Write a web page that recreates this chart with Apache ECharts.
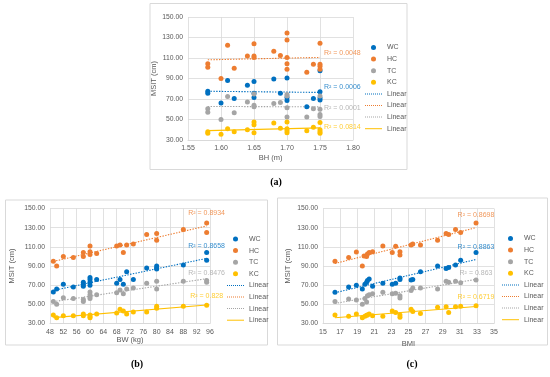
<!DOCTYPE html>
<html><head><meta charset="utf-8">
<script src="https://cdn.jsdelivr.net/npm/echarts@6/dist/echarts.min.js"></script>
<style>html,body{margin:0;padding:0;background:#fff}#c{width:550px;height:377px}</style>
</head><body><div id="c"></div>
<script>
// ---------- DATA ----------
const seriesNames = ['WC', 'HC', 'TC', 'KC'];
const lineNames = ['Linear1', 'Linear2', 'Linear3', 'Linear4'];

// (a) MSIT vs BH (m)
const bhWC = [[1.58,77.5],[1.58,75.5],[1.60,66],[1.61,88],[1.62,70.5],[1.64,83.5],[1.65,87],[1.65,75.5],[1.65,71.5],[1.68,89.5],[1.69,75.5],[1.70,90.5],[1.70,71.5],[1.70,68.5],[1.73,62.5],[1.74,70.5],[1.75,97.5],[1.75,77],[1.75,71],[1.75,69]];
const bhHC = [[1.58,104.5],[1.58,101],[1.60,90],[1.61,122.5],[1.62,100],[1.64,112],[1.65,124],[1.65,112],[1.65,110.5],[1.68,116.5],[1.69,112.5],[1.70,134.5],[1.70,127.5],[1.70,110.5],[1.70,104.5],[1.70,99],[1.73,96],[1.74,104],[1.75,124.5],[1.75,104],[1.75,102],[1.75,99]];
const bhTC = [[1.58,60.5],[1.58,57],[1.60,50],[1.61,72.5],[1.62,56.5],[1.64,67],[1.65,75],[1.65,64],[1.65,62.5],[1.68,65.5],[1.69,66.5],[1.70,74.5],[1.70,73],[1.70,61.5],[1.70,52.5],[1.73,52.5],[1.74,60.5],[1.75,73],[1.75,60],[1.75,55],[1.75,53]];
const bhKC = [[1.58,38],[1.58,36.5],[1.60,35.5],[1.61,41],[1.62,38],[1.64,40],[1.65,47.5],[1.65,45],[1.65,37],[1.68,46.5],[1.69,41.5],[1.70,47.5],[1.70,41],[1.70,39],[1.70,37],[1.73,39],[1.74,42.5],[1.75,47],[1.75,40],[1.75,38],[1.75,36.5]];
const r2BH = ['R² = 0.0006', 'R² = 0.0048', 'R² = 0.0001', 'R² = 0.0814'];

// (b) MSIT vs BW (kg)
const bwWC = [[49,63],[50,66],[52,71],[55,68],[58,73],[58,71],[58,69],[60,78],[60,76],[60,73],[60,70],[62,76],[68,72],[69,76],[70,71],[71,84],[73,76],[77,88],[80,90],[80,88],[80,87],[88,91],[95,104],[95,96]];
const bwHC = [[49,95],[50,90],[52,100],[55,99],[58,104],[58,100],[60,111],[60,105],[60,102],[62,103],[68,111],[69,112],[70,104],[71,112],[73,113],[77,123],[80,124],[80,117],[88,128],[95,135],[95,125]];
const bwTC = [[49,53],[50,50],[52,57],[55,56],[58,55],[58,53],[60,63],[60,60],[60,58],[60,56],[62,60],[68,62],[69,65],[70,61],[71,66],[73,67],[77,72],[80,74],[80,66],[88,74],[95,75],[95,73]];
const bwKC = [[49,39],[50,36],[52,38],[55,38],[58,40],[58,38],[60,39],[60,37],[60,36],[62,40],[68,41],[69,45],[70,43],[71,40],[73,42],[77,42],[80,48],[80,46],[88,48],[95,49]];
const r2BW = ['R² = 0.8658', 'R² = 0.8934', 'R² = 0.8476', 'R² = 0.828'];

// (c) MSIT vs BMI
const bmiWC = [[16.4,62.5],[18,68],[18.9,70],[19.6,66],[19.9,71],[20.1,73],[20.2,75],[20.4,76.5],[20.8,69],[22,72],[23.1,71],[23.5,72],[24,77.5],[24,76],[25.3,75.5],[25.5,76],[26.4,84],[28.4,90],[29.4,87.5],[29.7,88.5],[30.5,91],[31.1,96],[32.9,104]];
const bmiHC = [[16.4,95],[18,99],[18.9,104.5],[19.6,90],[19.8,100.5],[20.1,100],[20.2,102.5],[20.4,104],[20.8,105],[22,111],[23.1,104],[23.5,110.5],[24,105],[24,101.5],[25.3,112],[25.5,113],[26.4,112],[28.4,117],[29.4,124],[29.7,123],[30.5,128],[31.1,125],[32.9,135]];
const bmiTC = [[16.4,53],[18,55.5],[18.9,54.5],[19.6,50],[19.9,56],[20.1,52.5],[20.2,59],[20.4,60],[20.8,61],[22,62.5],[23.1,61],[23.5,61.5],[24,59],[24,56.5],[25.3,64.5],[25.5,67],[26.4,67],[28.4,66],[29.4,74],[29.7,73],[30.5,74],[31.1,72.5],[32.9,75.5]];
const bmiKC = [[16.4,39],[18,37.5],[18.9,40],[19.6,36],[19.9,37.5],[20.1,38.5],[20.2,39],[20.4,40],[20.8,38],[22,37.5],[23.1,43],[23.5,41.5],[24,39],[24,36.5],[25.3,45],[25.5,42.5],[26.4,40.5],[28.4,47],[29.4,47.5],[29.7,41.5],[30.5,47.5],[31.1,48],[32.9,48.5]];
const r2BMI = ['R² = 0.8863', 'R² = 0.8698', 'R² = 0.863', 'R² = 0.6719'];

// axis labels
const yName = 'MSIT (cm)';
const xNames = ['BH (m)', 'BW (kg)', 'BMI'];
const panelLabels = ['(a)', '(b)', '(c)'];

// ---------- STYLE ----------
const colors = ['#0070C0', '#ED7D31', '#A5A5A5', '#FFC000'];
const FONT = 'Liberation Sans';
const TXT = '#595959';
const GRID = '#d9d9d9';

function fit(pts) {
  const n = pts.length;
  let sx = 0, sy = 0, sxx = 0, sxy = 0, xmin = Infinity, xmax = -Infinity;
  pts.forEach(([x, y]) => { sx += x; sy += y; sxx += x * x; sxy += x * y; xmin = Math.min(xmin, x); xmax = Math.max(xmax, x); });
  const b = (n * sxy - sx * sy) / (n * sxx - sx * sx);
  const a = (sy - b * sx) / n;
  return [[xmin, a + b * xmin], [xmax, a + b * xmax]];
}

const panels = [
  { data: [bhWC, bhHC, bhTC, bhKC], r2: r2BH, grid: { left: 188, top: 17, width: 165, height: 123 },
    x: { min: 1.55, max: 1.80, interval: 0.05, dec: 2, nameGap: 14 },
    labelPos: [[4, -5], [4, -4], [4, 1], [4, -1]], labelAlign: 'left', yNameGap: 30,
    legend: { left: 360, top: 38 } },
  { data: [bwWC, bwHC, bwTC, bwKC], r2: r2BW, grid: { left: 50, top: 208.5, width: 160, height: 115 },
    x: { min: 48, max: 96, interval: 4, dec: 0, nameGap: 11 },
    labelPos: [[0, -12], [0, -12.5], [0, -6], [0, -9]], labelAlign: 'center', yNameGap: 34,
    legend: { left: 222, top: 229.5 } },
  { data: [bmiWC, bmiHC, bmiTC, bmiKC], r2: r2BMI, grid: { left: 323, top: 208.5, width: 171, height: 115 },
    x: { min: 15, max: 35, interval: 2, dec: 0, nameGap: 16 },
    labelPos: [[0, -12.5], [0, -12.5], [0, -6], [0, -9]], labelAlign: 'center', yNameGap: 31,
    legend: { left: 497, top: 229 } }
];

const grids = [], xAxes = [], yAxes = [], series = [], legends = [], graphics = [];

function dottedPath() {
  let p = 'path://';
  for (let i = 0; i < 9; i++) p += 'M' + (i * 2) + ',0h1v1h-1z';
  return p;
}
const dotted = dottedPath();
const solid = 'path://M0,0h17v1h-17z';

panels.forEach((pn, gi) => {
  grids.push(Object.assign({ containLabel: false }, pn.grid));
  xAxes.push({
    type: 'value', gridIndex: gi, min: pn.x.min, max: pn.x.max, interval: pn.x.interval,
    name: xNames[gi], nameLocation: 'middle', nameGap: pn.x.nameGap,
    nameTextStyle: { color: TXT, fontSize: 7.5, fontFamily: FONT },
    axisLine: { show: true, lineStyle: { color: GRID, width: 1 } },
    axisTick: { show: false },
    axisLabel: { color: TXT, fontSize: 7, fontFamily: FONT, margin: 5,
      formatter: v => Number(v).toFixed(pn.x.dec) },
    splitLine: { show: true, lineStyle: { color: GRID, width: 0.8 } }
  });
  yAxes.push({
    type: 'value', gridIndex: gi, min: 30, max: 150, interval: 20,
    name: yName, nameLocation: 'middle', nameGap: pn.yNameGap, nameRotate: 90,
    nameTextStyle: { color: TXT, fontSize: 7.5, fontFamily: FONT },
    axisLine: { show: false }, axisTick: { show: false },
    axisLabel: { color: TXT, fontSize: 6.8, fontFamily: FONT, margin: 5,
      formatter: v => Number(v).toFixed(2) },
    splitLine: { show: true, lineStyle: { color: GRID, width: 0.8 } }
  });
  pn.data.forEach((pts, si) => {
    series.push({
      type: 'scatter', name: seriesNames[si], xAxisIndex: gi, yAxisIndex: gi,
      data: pts, symbolSize: 5, itemStyle: { color: colors[si], opacity: 1 }, z: 3
    });
  });
  pn.data.forEach((pts, si) => {
    series.push({
      type: 'line', name: lineNames[si], xAxisIndex: gi, yAxisIndex: gi,
      data: fit(pts), symbol: 'none', showSymbol: false, silent: true, z: 2,
      itemStyle: { color: colors[si] },
      lineStyle: { color: colors[si], width: 1.1, type: si === 3 ? 'solid' : [1.4, 1.4] }
    });
  });
  pn.data.forEach((pts, si) => {
    const end = fit(pts)[1];
    series.push({
      type: 'scatter', name: 'r2_' + gi + '_' + si, xAxisIndex: gi, yAxisIndex: gi,
      data: [end], symbolSize: 0.1, silent: true, z: 4,
      itemStyle: { color: 'rgba(0,0,0,0)' },
      label: { show: true, formatter: pn.r2[si], position: pn.labelPos[si], align: pn.labelAlign,
        verticalAlign: 'middle', color: colors[si], fontSize: 7, fontFamily: FONT }
    });
  });
  legends.push({
    orient: 'vertical', left: pn.legend.left, top: pn.legend.top,
    itemWidth: 17, itemHeight: 5, itemGap: 2.6, selectedMode: false,
    textStyle: { color: TXT, fontSize: 7, fontFamily: FONT, lineHeight: 9 },
    formatter: n => n.indexOf('Linear') === 0 ? 'Linear' : n,
    data: [
      { name: 'WC', icon: 'circle' }, { name: 'HC', icon: 'circle' },
      { name: 'TC', icon: 'circle' }, { name: 'KC', icon: 'circle' },
      { name: 'Linear1', icon: dotted }, { name: 'Linear2', icon: dotted },
      { name: 'Linear3', icon: dotted }, { name: 'Linear4', icon: solid }
    ]
  });
});

const frames = [[150, 3.5, 257, 166], [5.5, 200, 262, 145], [277.5, 198, 270, 147]];
frames.forEach(f => graphics.push({ type: 'rect', silent: true, z: -1,
  shape: { x: f[0], y: f[1], width: f[2], height: f[3] },
  style: { fill: 'none', stroke: GRID, lineWidth: 1 } }));
const captionPos = [[276, 182], [137, 364], [412, 364]];
captionPos.forEach((p, i) => graphics.push({ type: 'text', silent: true, x: p[0], y: p[1],
  style: { text: panelLabels[i], fill: '#000', font: 'bold 10px "Liberation Serif"',
    textAlign: 'center', textVerticalAlign: 'middle' } }));

const chart = echarts.init(document.getElementById('c'), null, { renderer: 'canvas' });
chart.setOption({
  backgroundColor: '#fff', animation: false,
  grid: grids, xAxis: xAxes, yAxis: yAxes, series: series, legend: legends, graphic: graphics
});
</script></body></html>
